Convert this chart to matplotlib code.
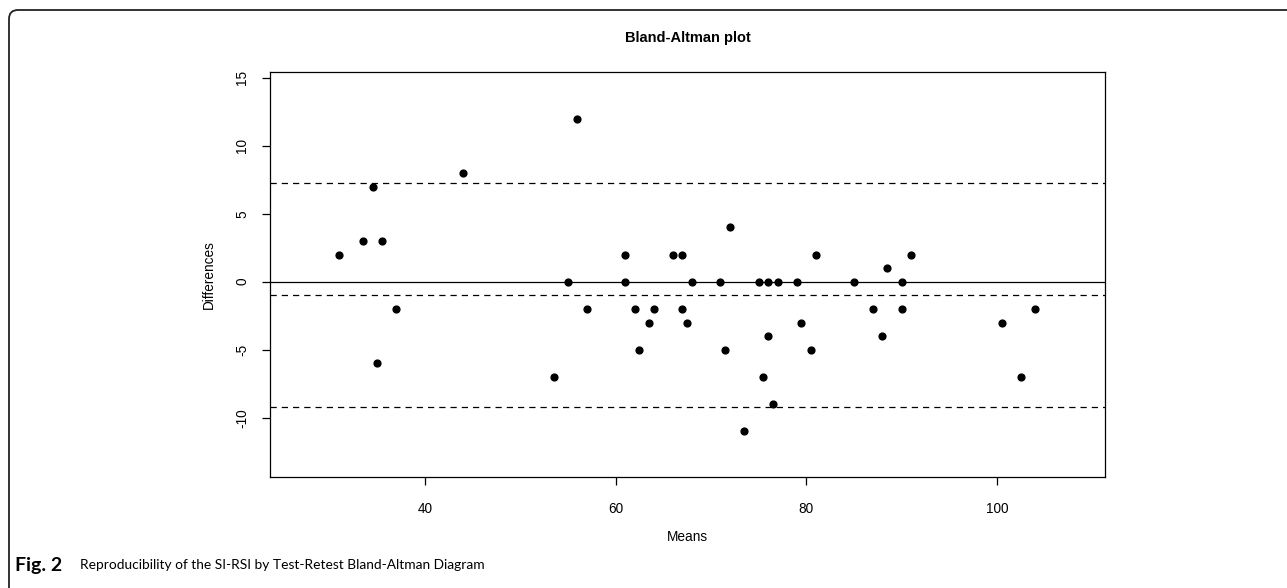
import numpy as np
import matplotlib
matplotlib.use("Agg")
import matplotlib.pyplot as plt
from matplotlib.path import Path
from matplotlib.patches import PathPatch

# Bland-Altman data
means = [31, 33.5, 34.5, 35.5, 35, 37, 44, 53.5, 55, 56, 57, 61, 61, 62, 62.5,
         63.5, 64, 66, 67, 67, 67.5, 68, 71, 71.5, 72, 73.5, 75, 75.5, 76, 76,
         76.5, 77, 79, 79.5, 80.5, 81, 85, 87, 88, 88.5, 90, 90, 91, 100.5,
         102.5, 104]
diffs = [2, 3, 7, 3, -6, -2, 8, -7, 0, 12, -2, 2, 0, -2, -5,
         -3, -2, 2, 2, -2, -3, 0, 0, -5, 4, -11, 0, -7, 0, -4,
         -9, 0, 0, -3, -5, 2, 0, -2, -4, 1, 0, -2, 2, -3,
         -7, -2]
mean_diff = -0.98
upper_loa = 7.24
lower_loa = -9.19

x_ticks = [40, 60, 80, 100]
y_ticks = [-10, -5, 0, 5, 10, 15]

W, H = 1287, 588
fig = plt.figure(figsize=(W / 100, H / 100), dpi=100)

# outer frame (top + left with rounded corner)
bg = fig.add_axes([0, 0, 1, 1])
bg.set_xlim(0, W)
bg.set_ylim(H, 0)
bg.axis("off")
verts = [(W, 10), (18, 10), (9, 10), (9, 19), (9, H)]
codes = [Path.MOVETO, Path.LINETO, Path.CURVE3, Path.CURVE3, Path.LINETO]
bg.add_patch(PathPatch(Path(verts, codes), fill=False, lw=1.3, color="#222222"))

# caption
bg.text(15, 565, "Fig. 2", fontsize=14, fontweight="bold", family="Lato",
        va="center", ha="left")
bg.text(80, 565, "Reproducibility of the SI-RSI by Test-Retest Bland-Altman Diagram",
        fontsize=9.9, family="Lato", va="center", ha="left")

# main plot
left, right, top, bottom = 270, 1105, 72.3, 477.3
ax = fig.add_axes([left / W, 1 - bottom / H, (right - left) / W, (bottom - top) / H])
ax.scatter(means, diffs, s=24, color="black", zorder=3)
ax.axhline(0, color="black", lw=0.9)
for yv in [mean_diff, upper_loa, lower_loa]:
    ax.axhline(yv, color="black", lw=0.9, linestyle=(0, (5, 4)))

ax.set_xlim(23.74, 111.35)
ax.set_ylim(-14.38, 15.40)
ax.set_xticks(x_ticks)
ax.set_yticks(y_ticks)
ax.set_yticklabels([str(v) for v in y_ticks], rotation=90, va="center")
ax.tick_params(direction="out", length=6, width=0.9, labelsize=9.8)
ax.tick_params(axis="x", pad=12)
ax.tick_params(axis="y", pad=9)
for lab in ax.get_xticklabels() + ax.get_yticklabels():
    lab.set_family("Liberation Sans")
for sp in ax.spines.values():
    sp.set_linewidth(0.9)

ax.set_title("Bland-Altman plot", fontsize=10.5, fontweight="bold",
             family="Liberation Sans", pad=22)
ax.set_xlabel("Means", fontsize=9.8, family="Liberation Sans", labelpad=10)
ax.set_ylabel("Differences", fontsize=9.8, family="Liberation Sans", labelpad=14)

fig.savefig("out.png", dpi=100)
